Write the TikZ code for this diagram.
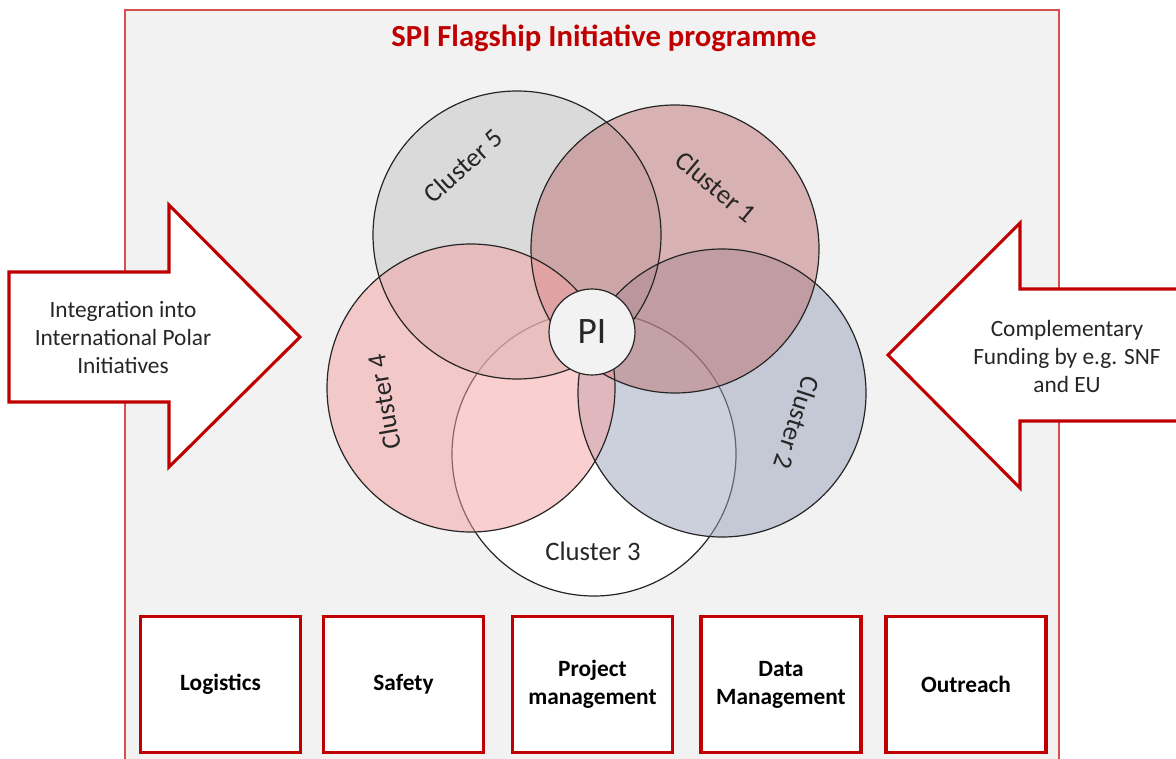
\documentclass[tikz,border=0pt]{standalone}
\usepackage{fontspec}
\setmainfont{Carlito}
\definecolor{darkred}{RGB}{192,0,0}
\definecolor{framecol}{RGB}{214,80,80}
\definecolor{bggray}{RGB}{242,242,242}
\definecolor{cfive}{RGB}{200,200,200}
\definecolor{cone}{RGB}{191,115,115}
\definecolor{ctwo}{RGB}{152,162,186}
\definecolor{cfour}{RGB}{244,160,160}
\definecolor{outline}{RGB}{38,38,38}
\tikzset{
  clusterlabel/.style={font=\fontsize{20}{24}\selectfont, text=black!85, inner sep=0pt},
  arrowtext/.style={font=\fontsize{17.5}{21}\selectfont, align=center, text=black!85, inner sep=0pt},
  boxlabel/.style={font=\fontsize{17.5}{21}\selectfont\bfseries, align=center},
  stepbox/.style={draw=darkred, line width=2.8pt, fill=white, minimum width=120pt, minimum height=102pt, inner sep=0pt},
  bigarrow/.style={draw=darkred, line width=2.3pt, fill=white, line join=miter},
  circ/.style={draw=outline, line width=0.9pt}
}
\begin{document}
\begin{tikzpicture}[x=0.75pt,y=-0.75pt]
\useasboundingbox (0,0) rectangle (1176,759);
\fill[white] (0,0) rectangle (1176,759);
% outer frame
\draw[framecol, line width=1.1pt, fill=bggray] (125,10) rectangle (1059,775);
\node[font=\fontsize{23}{27}\selectfont\bfseries, text=darkred] (title) at (604,38) {SPI Flagship Initiative programme};

% circles
\fill[white] (594,454) circle[radius=106.5pt];
\draw[circ] (594,454) circle[radius=106.5pt];
\fill[cfive, fill opacity=0.55] (517,235) circle[radius=108pt];
\fill[ctwo, fill opacity=0.5] (722,393) circle[radius=108pt];
\fill[cone, fill opacity=0.5] (675,249) circle[radius=108pt];
\fill[cfour, fill opacity=0.5] (471,388) circle[radius=108pt];
\draw[circ] (517,235) circle[radius=108pt];
\draw[circ] (675,249) circle[radius=108pt];
\draw[circ] (722,393) circle[radius=108pt];
\draw[circ] (471,388) circle[radius=108pt];

\node[circle, draw=outline, line width=0.9pt, fill=bggray, minimum size=64.5pt, inner sep=0pt,
      font=\fontsize{28}{30}\selectfont, text=black!85] (pi) at (592,332) {PI};

\node[clusterlabel, rotate=42] (c5) at (463,166) {Cluster 5};
\node[clusterlabel, rotate=-40] (c1) at (716,187) {Cluster 1};
\node[clusterlabel, rotate=-108] (c2) at (797,423) {Cluster 2};
\node[clusterlabel] (c3) at (593,551) {Cluster 3};
\node[clusterlabel, rotate=100] (c4) at (384,402) {Cluster 4};

% side arrows
\draw[bigarrow] (9,272) -- (169,272) -- (169,205) -- (300,337) -- (169,467) -- (169,402) -- (9,402) -- cycle;
\node[arrowtext] (leftt) at (123,338) {Integration into\\International Polar\\Initiatives};
\draw[bigarrow] (1185,289) -- (1020,289) -- (1020,223) -- (888,355) -- (1020,488) -- (1020,421) -- (1185,421);
\node[arrowtext] (rightt) at (1067,356) {Complementary\\Funding by e.g. SNF\\and EU};

% bottom boxes
\node[stepbox] (b1) at (220.5,684.5) {};
\node[stepbox] (b2) at (403.5,684.5) {};
\node[stepbox] (b3) at (592.5,684.5) {};
\node[stepbox] (b4) at (781,684.5) {};
\node[stepbox] (b5) at (966,684.5) {};
\node[boxlabel] (l1) at (b1) {Logistics};
\node[boxlabel] (l2) at (b2) {Safety};
\node[boxlabel] (l3) at (b3) {Project\\management};
\node[boxlabel] (l4) at (b4) {Data\\Management};
\node[boxlabel] (l5) at (b5) {Outreach};
\end{tikzpicture}
\end{document}
